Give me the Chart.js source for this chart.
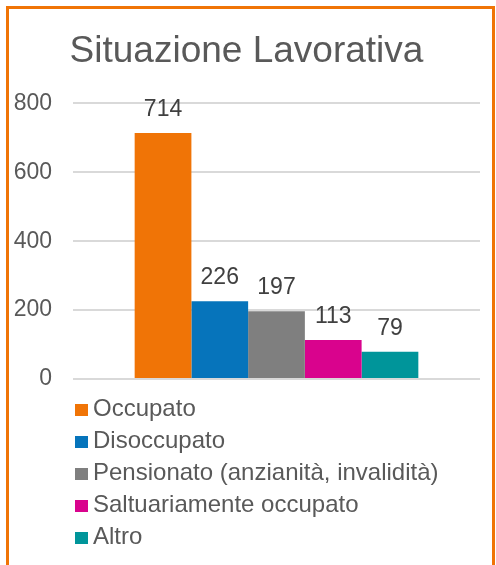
<!DOCTYPE html>
<html>
<head>
<meta charset="utf-8">
<script src="https://cdn.jsdelivr.net/npm/chart.js@4.4.1/dist/chart.umd.min.js"></script>
<style>
  html, body { margin: 0; padding: 0; background: #fff; }
  body { width: 496px; height: 565px; position: relative; overflow: hidden;
         font-family: "Liberation Sans", Arial, sans-serif; }
  #frame { position: absolute; left: 6px; top: 6px; width: 483px; height: 600px;
           border: 3px solid #F07406; box-sizing: content-box; }
  #wrap { position: absolute; left: 13px; top: 0; width: 483px; height: 393px; }
  #legend { position: absolute; left: 75px; top: 392px; margin: 0; padding: 0;
            list-style: none; color: #595959; font-size: 24px; }
  #legend li { height: 32px; line-height: 32px; white-space: nowrap; }
  #legend span.box { display: inline-block; width: 13px; height: 12px;
                     margin-right: 5px; vertical-align: 0px; }
</style>
</head>
<body>
<div id="frame"></div>
<div id="wrap"><canvas id="chart"></canvas></div>
<ul id="legend"></ul>
<script>
/*******************************************************
 * data
 *******************************************************/
const categories = ["Situazione Lavorativa"];
const seriesNames = [
  "Occupato",
  "Disoccupato",
  "Pensionato (anzianità, invalidità)",
  "Saltuariamente occupato",
  "Altro"
];
const seriesValues = [714, 226, 197, 113, 79];
const seriesColors = ["#F07406", "#0674BB", "#7F7F7F", "#D9038D", "#00959A"];
const yTicks = [0, 200, 400, 600, 800];

/*******************************************************
 * value labels above bars
 *******************************************************/
const barLabels = {
  id: "barLabels",
  afterDatasetsDraw(chart) {
    const ctx = chart.ctx;
    ctx.save();
    ctx.font = '23px "Liberation Sans", Arial, sans-serif';
    ctx.fillStyle = "#404040";
    ctx.textAlign = "center";
    ctx.textBaseline = "alphabetic";
    chart.data.datasets.forEach((ds, i) => {
      const meta = chart.getDatasetMeta(i);
      meta.data.forEach((bar, j) => {
        ctx.fillText(String(ds.data[j]), bar.x, bar.y - 17);
      });
    });
    ctx.restore();
  }
};

const datasets = seriesNames.map((name, i) => ({
  label: name,
  data: [seriesValues[i]],
  backgroundColor: seriesColors[i],
  barPercentage: 1.0,
  categoryPercentage: 0.697
}));

new Chart(document.getElementById("chart"), {
  type: "bar",
  data: { labels: categories, datasets: datasets },
  plugins: [barLabels],
  options: {
    responsive: true,
    maintainAspectRatio: false,
    animation: false,
    layout: { padding: { left: 0, right: 16, top: 0, bottom: 13 } },
    plugins: {
      legend: { display: false },
      tooltip: { enabled: false },
      title: {
        display: true,
        text: categories[0],
        color: "#595959",
        font: { family: '"Liberation Sans", Arial, sans-serif', size: 37, weight: "normal" },
        padding: { top: 30, bottom: 29 }
      }
    },
    scales: {
      x: {
        display: false
      },
      y: {
        min: 0,
        max: 800,
        afterBuildTicks(axis) {
          axis.ticks = yTicks.map(v => ({ value: v }));
        },
        afterFit(axis) {
          // tick padding gets counted twice in the fit, so set the box here
          axis.width = 60;
          axis.paddingTop = 14;
          axis.paddingBottom = 14;
        },
        ticks: {
          color: "#595959",
          padding: 21,
          font: { family: '"Liberation Sans", Arial, sans-serif', size: 23 }
        },
        grid: { color: "#D9D9D9", lineWidth: 2, drawTicks: false },
        border: { display: false }
      }
    }
  }
});

/*******************************************************
 * legend (one item per line)
 *******************************************************/
const legendEl = document.getElementById("legend");
seriesNames.forEach((name, i) => {
  const li = document.createElement("li");
  li.innerHTML = `<span class="box" style="background:${seriesColors[i]}"></span>${name}`;
  legendEl.appendChild(li);
});
</script>
</body>
</html>
